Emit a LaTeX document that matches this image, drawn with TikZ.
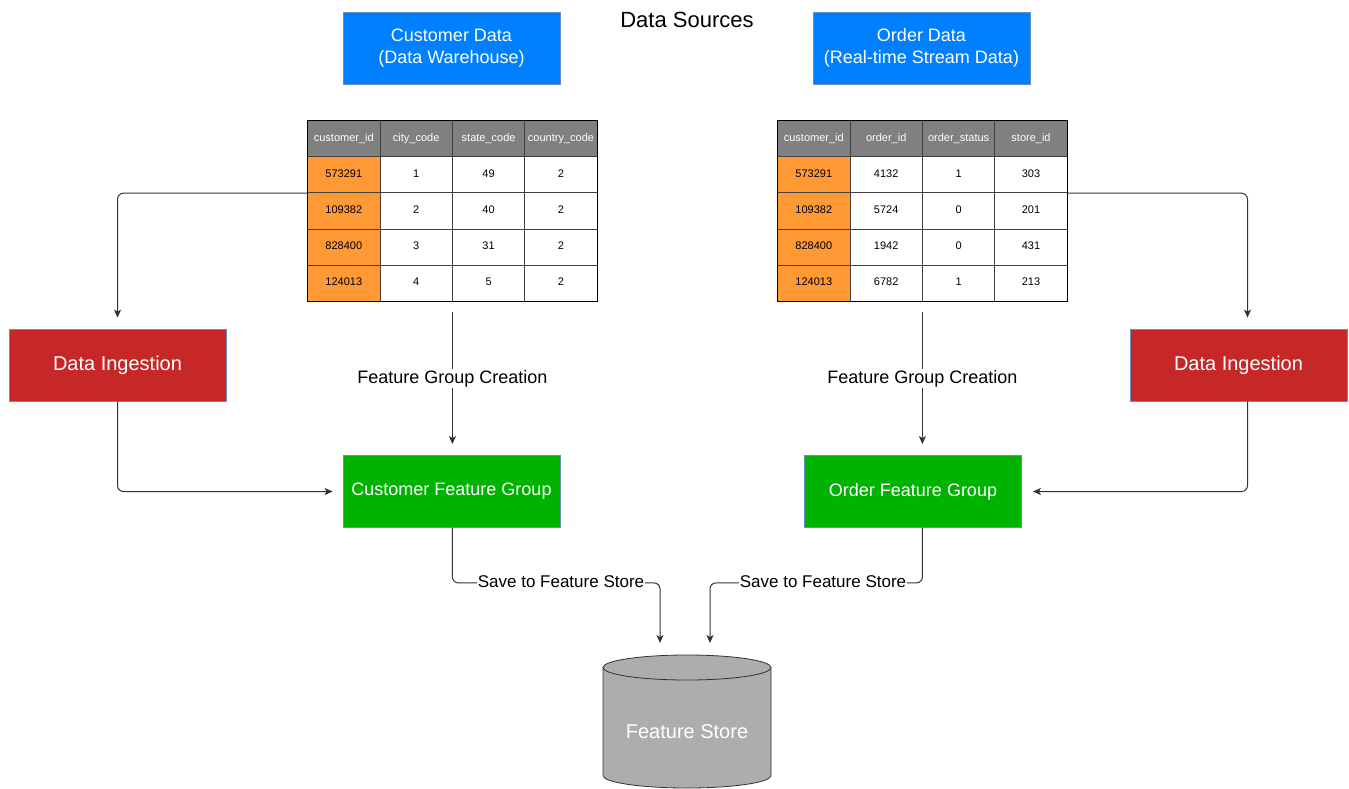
\documentclass[tikz,border=0pt]{standalone}
\usepackage{fontspec}
\setmainfont{Liberation Sans}
\usetikzlibrary{arrows.meta,calc,matrix}
\definecolor{dsblue}{HTML}{007FFF}
\definecolor{dsred}{HTML}{C62828}
\definecolor{dsgreen}{HTML}{00B300}
\definecolor{dsedge}{HTML}{6C8EBF}
\definecolor{dshdr}{HTML}{808080}
\definecolor{dskey}{HTML}{FF9933}
\definecolor{dscyl}{HTML}{ADADAD}
\definecolor{dsline}{HTML}{333333}
\begin{document}
\begin{tikzpicture}[x=1pt,y=-1pt,
  box/.style={draw=dsedge, line width=0.8pt, minimum width=217, minimum height=72, inner sep=0, text=white, align=center},
  srcbox/.style={box, fill=dsblue, font=\fontsize{18}{22}\selectfont},
  ingbox/.style={box, fill=dsred, font=\fontsize{20}{24}\selectfont},
  fgbox/.style={box, fill=dsgreen, font=\fontsize{18}{22}\selectfont},
  cell/.style={draw=black!75, line width=0.8pt, minimum width=72.4, minimum height=36.1, text height=8pt, text depth=2.5pt, inner sep=0, anchor=center, fill=white, font=\fontsize{11}{13}\selectfont},
  hdr/.style={fill=dshdr, text=white},
  keyc/.style={fill=dskey},
  conn/.style={draw=dsline, line width=1pt, rounded corners=6, -{Stealth[length=8pt,width=7pt,inset=2pt]}},
  lbl/.style={fill=white, inner sep=1pt, font=\fontsize{18}{22}\selectfont},
  slbl/.style={fill=white, inner sep=1pt, font=\fontsize{17}{20}\selectfont},
  ttl/.style={font=\fontsize{22}{26}\selectfont, inner sep=0}
]
\useasboundingbox (0,0) rectangle (1349,788);

% title and sources
\node[ttl] (ds) at (687,20) {Data Sources};
\node[srcbox] (cd) at (451.5,48) {Customer Data\\(Data Warehouse)};
\node[srcbox] (od) at (921.5,48) {Order Data\\(Real-time Stream Data)};

% tables
\matrix (tl) [matrix of nodes, nodes={cell}, column sep=-0.8pt, row sep=-0.8pt, inner sep=0, anchor=north west] at (307,120) {
 |[hdr]| customer\_id & |[hdr]| city\_code & |[hdr]| state\_code & |[hdr]| country\_code \\
 |[keyc]| 573291 & 1 & 49 & 2 \\
 |[keyc]| 109382 & 2 & 40 & 2 \\
 |[keyc]| 828400 & 3 & 31 & 2 \\
 |[keyc]| 124013 & 4 & 5 & 2 \\
};
\matrix (tr) [matrix of nodes, nodes={cell}, column sep=-0.8pt, row sep=-0.8pt, inner sep=0, anchor=north west] at (777,120) {
 |[hdr]| customer\_id & |[hdr]| order\_id & |[hdr]| order\_status & |[hdr]| store\_id \\
 |[keyc]| 573291 & 4132 & 1 & 303 \\
 |[keyc]| 109382 & 5724 & 0 & 201 \\
 |[keyc]| 828400 & 1942 & 0 & 431 \\
 |[keyc]| 124013 & 6782 & 1 & 213 \\
};
\draw[black, line width=1pt] (tl.north west) rectangle (tl.south east);
\draw[black, line width=1pt] (tr.north west) rectangle (tr.south east);

% process boxes
\node[ingbox] (di1) at (117.5,365) {Data Ingestion};
\node[ingbox] (di2) at (1238.5,365) {Data Ingestion};
\node[fgbox] (cfg) at (451.5,491.5) {Customer Feature Group};
\node[fgbox] (ofg) at (913,491.5) {Order Feature Group};

% feature store cylinder
\node[minimum width=168, minimum height=133, inner sep=0] (fs) at (687,721.5) {};
\fill[dscyl, draw=black!80, line width=0.8pt]
  (603,667.5) -- (603,775.5) arc[start angle=180, end angle=360, x radius=84pt, y radius=12.5pt]
  -- (771,667.5) arc[start angle=0, end angle=180, x radius=84pt, y radius=12.5pt] -- cycle;
\draw[black!80, line width=0.8pt] (603,667.5) arc[start angle=180, end angle=360, x radius=84pt, y radius=12.5pt];
\node[text=white, font=\fontsize{20}{24}\selectfont] (fst) at (687,732) {Feature Store};
\coordinate (fsL) at (660,655);
\coordinate (fsR) at (710,655);
\coordinate (di2n) at ($(di2.north)+(9,0)$);
\coordinate (di2s) at ($(di2.south)+(9,0)$);

% connectors
\draw[conn, shorten >=11pt] (tl-2-1.south west) -| (di1.north);
\draw[conn, shorten >=10pt] (di1.south) |- (cfg.west);
\draw[conn, shorten <=10pt, shorten >=11pt] (tl.south) -- node[lbl] (fgc1) {Feature Group Creation} (tl.south |- cfg.north);

\draw[conn, shorten >=11pt] (tr-2-4.south east) -| (di2n);
\draw[conn, shorten >=11pt] (di2s) |- (ofg.east);
\draw[conn, shorten <=10pt, shorten >=11pt] (tr.south) -- node[lbl] (fgc2) {Feature Group Creation} (tr.south |- ofg.north);

\draw[conn, shorten >=12pt] (tl.south |- cfg.south) -- ++(0,55) -| (fsL);
\draw[conn, shorten >=12pt] (tr.south |- ofg.south) -- ++(0,55) -| (fsR);
\node[slbl] (sv1) at (561,582) {Save to Feature Store};
\node[slbl] (sv2) at (823,582) {Save to Feature Store};
\end{tikzpicture}
\end{document}
